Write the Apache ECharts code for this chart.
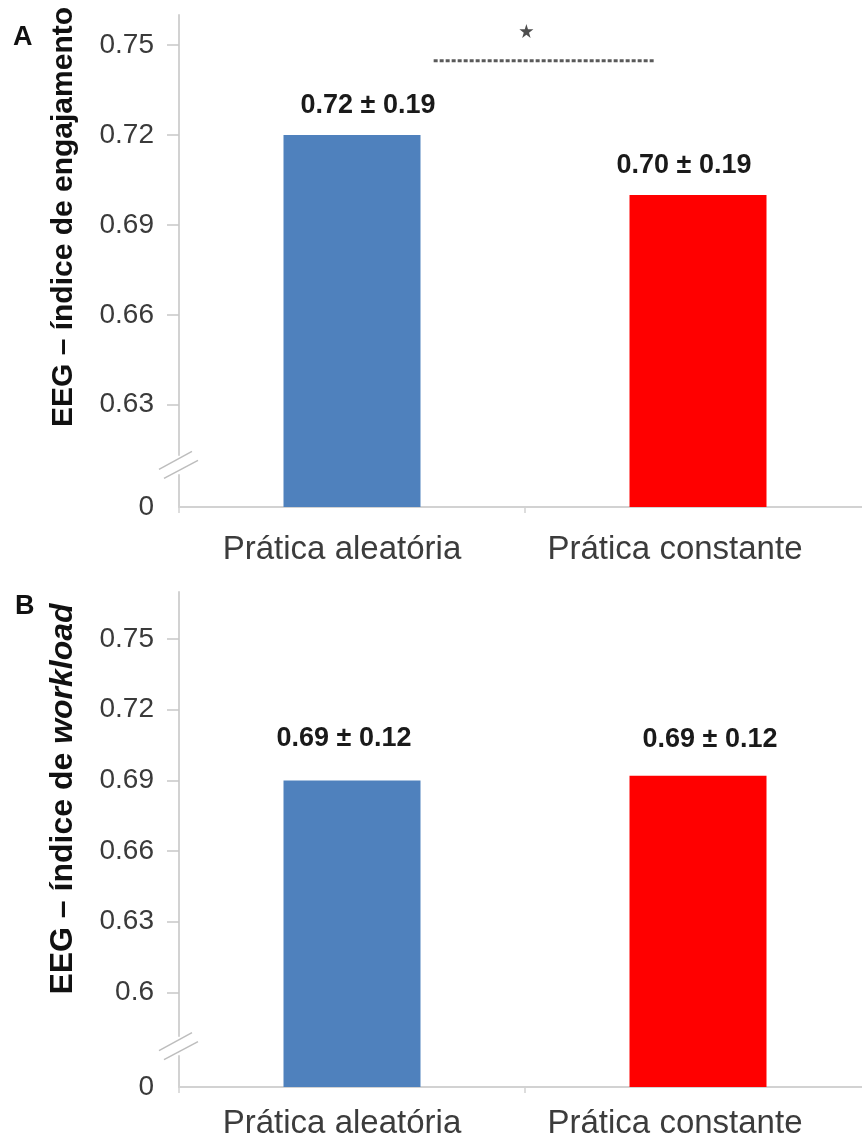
<!DOCTYPE html>
<html>
<head>
<meta charset="utf-8">
<script src="https://cdn.jsdelivr.net/npm/echarts@6/dist/echarts.min.js"></script>
<style>
  html, body { margin: 0; padding: 0; background: #ffffff; }
  #chart { width: 862px; height: 1142px; }
</style>
</head>
<body>
<div id="chart"></div>
<script>
// Group labels shared by both panels
const categories = ['Prática aleatória', 'Prática constante'];

// Panel A: EEG engagement index (mean ± SD)
const engagementMean = [0.72, 0.70];
const engagementSD = [0.19, 0.19];
const engagementTicks = [0, 0.63, 0.66, 0.69, 0.72, 0.75];
const engagementBreak = { start: 0.0107, end: 0.6133, gap: 0.0067 };

// Panel B: EEG workload index (mean ± SD)
const workloadMean = [0.69, 0.692];
const workloadSD = [0.12, 0.12];
const workloadTicks = [0, 0.6, 0.63, 0.66, 0.69, 0.72, 0.75];
const workloadBreak = { start: 0.0131, end: 0.5814, gap: 0.0085 };

// Significance bracket over panel A (x in category units, y in index units)
const sigLine = [[0.236, 0.7447], [0.877, 0.7447]];
const sigStar = [[0.504, 0.7547]];

const FONT = "'Liberation Sans', Arial, sans-serif";
const barColors = ['#4f81bd', '#ff0000'];
const axisGray = '#d2d2d2';

const chart = echarts.init(document.getElementById('chart'), null, { renderer: 'canvas' });

function categoryAxis(gridIndex, margin) {
  return {
    type: 'category', gridIndex, data: categories,
    axisLine: { show: true, lineStyle: { color: axisGray, width: 2 } },
    axisTick: { show: true, length: 6, lineStyle: { color: axisGray, width: 1.5 } },
    axisLabel: {
      margin,
      // the two group names sit a little left of their bars
      formatter: (v, i) => '{g' + i + '|' + v + '}',
      rich: {
        g0: { fontSize: 33, color: '#3c3c3c', fontFamily: FONT, padding: [0, 20, 0, 0] },
        g1: { fontSize: 33, color: '#3c3c3c', fontFamily: FONT, padding: [0, 46, 0, 0] }
      }
    },
    splitLine: { show: false }
  };
}

function valueAxis(gridIndex, max, brk, ticks, name, nameSize, padUp) {
  return {
    type: 'value', gridIndex, min: 0, max,
    breaks: [brk],
    breakArea: { show: false },
    axisLine: { show: true, onZero: false, lineStyle: { color: axisGray, width: 2 } },
    axisTick: { show: true, length: 12, lineStyle: { color: '#c8c8c8', width: 1.5 }, customValues: ticks.slice(1) },
    axisLabel: { customValues: ticks, fontSize: 28, color: '#3a3a3a', margin: 25, fontFamily: FONT },
    splitLine: { show: false },
    name, nameLocation: 'middle', nameRotate: 90, nameGap: 100,
    nameTextStyle: {
      fontSize: nameSize, fontWeight: 'bold', color: '#111111', fontFamily: FONT,
      padding: [0, 0, 0, padUp],
      rich: {
        b: { fontSize: nameSize, fontWeight: 'bold', color: '#111111', fontFamily: FONT },
        i: { fontSize: nameSize, fontWeight: 'bold', fontStyle: 'italic', color: '#111111', fontFamily: FONT }
      }
    }
  };
}

function barSeries(axisIndex, means, sds, labelOffsets, distances) {
  return {
    type: 'bar', xAxisIndex: axisIndex, yAxisIndex: axisIndex,
    barWidth: 137,
    data: means.map((v, i) => ({
      value: v,
      itemStyle: { color: barColors[i] },
      label: { offset: labelOffsets[i], distance: distances[i] }
    })),
    label: {
      show: true, position: 'top',
      formatter: p => means[p.dataIndex].toFixed(2) + ' ± ' + sds[p.dataIndex].toFixed(2),
      fontSize: 27, fontWeight: 'bold', color: '#1a1a1a', fontFamily: FONT
    },
    emphasis: { disabled: true },
    silent: true
  };
}

const option = {
  animation: false,
  backgroundColor: '#ffffff',
  grid: [
    { left: 179, top: 15, width: 692, height: 492, outerBoundsMode: 'none' },
    { left: 179, top: 592, width: 692, height: 495, outerBoundsMode: 'none' }
  ],
  xAxis: [
    categoryAxis(0, 26),
    categoryAxis(1, 20),
    { type: 'value', gridIndex: 0, min: -0.5, max: 1.5, show: false },
    { type: 'value', gridIndex: 1, min: -0.5, max: 1.5, show: false }
  ],
  yAxis: [
    valueAxis(0, 0.76, engagementBreak, engagementTicks, 'EEG – índice de engajamento', 30, 88),
    valueAxis(1, 0.77, workloadBreak, workloadTicks, '{b|EEG – índice de }{i|workload}', 32, 81)
  ],
  series: [
    barSeries(0, engagementMean, engagementSD, [[16, 0], [-14, 0]], [16, 16]),
    barSeries(1, workloadMean, workloadSD, [[-8, 0], [12, 0]], [28, 23]),
    {
      type: 'line', xAxisIndex: 2, yAxisIndex: 0, data: sigLine,
      symbol: 'none', silent: true,
      lineStyle: { color: '#5a5a5a', width: 3, type: [4, 2] }
    },
    {
      type: 'scatter', xAxisIndex: 2, yAxisIndex: 0, data: sigStar, silent: true,
      symbol: 'path://M50,0 L61,35 L98,35 L68,57 L79,91 L50,70 L21,91 L32,57 L2,35 L39,35 Z',
      symbolSize: 14, itemStyle: { color: '#222222' }
    }
  ]
};

chart.setOption(option);

// Panel letters and the double-slash marks on each broken y axis
function breakMarks(xAxisIndex, yAxisIndex, brk) {
  const x = chart.convertToPixel({ xAxisIndex }, -0.5);
  const y1 = chart.convertToPixel({ yAxisIndex }, brk.start);
  const y2 = chart.convertToPixel({ yAxisIndex }, brk.end);
  const yc = (y1 + y2) / 2;
  const style = { stroke: '#bdbdbd', lineWidth: 1.5 };
  return [
    { type: 'line', shape: { x1: x - 20, y1: yc + 4.5, x2: x + 13, y2: yc - 13.5 }, style, silent: true },
    { type: 'line', shape: { x1: x - 15, y1: yc + 13.5, x2: x + 19, y2: yc - 4.5 }, style, silent: true }
  ];
}

chart.setOption({
  graphic: [
    { type: 'text', left: 13, top: 24, style: { text: 'A', fontSize: 27, fontWeight: 'bold', fill: '#111111', fontFamily: FONT } },
    { type: 'text', left: 15, top: 593, style: { text: 'B', fontSize: 27, fontWeight: 'bold', fill: '#111111', fontFamily: FONT } },
    ...breakMarks(2, 0, engagementBreak),
    ...breakMarks(3, 1, workloadBreak)
  ]
});
</script>
</body>
</html>
